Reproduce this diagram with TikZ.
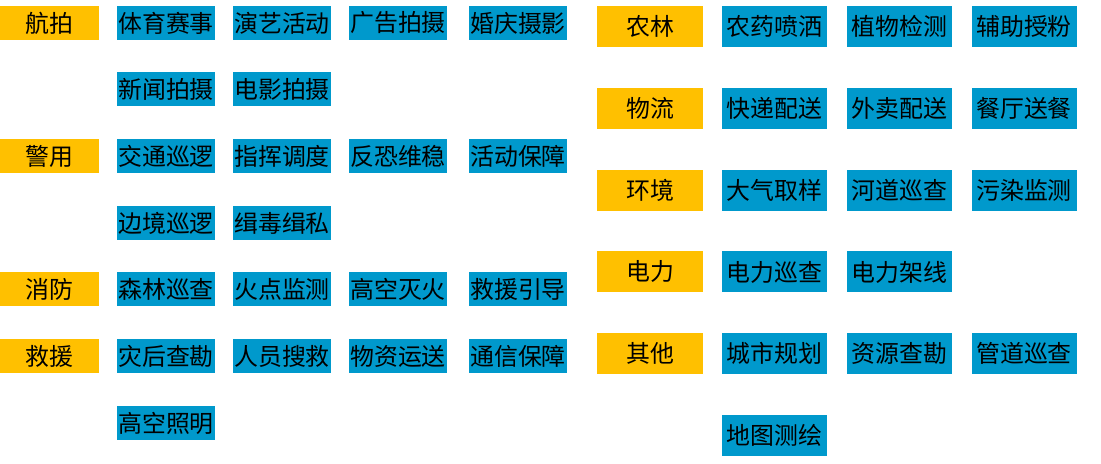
\documentclass[tikz,border=0pt]{standalone}
\usepackage{fontspec}
\newfontfamily\cjk{Noto Sans CJK SC}
\usepackage{xcolor}
\usepackage{tikz}
\definecolor{catgold}{HTML}{FFC000}
\definecolor{appblue}{HTML}{0099CC}

\begin{document}
\begin{tikzpicture}[
    cat/.style={fill=catgold,inner sep=0pt,
      minimum width=1.98cm,minimum height=0.68cm,
      font=\cjk\fontsize{13.6pt}{16pt}\selectfont},
    app/.style={fill=appblue,inner sep=0pt,
      minimum width=1.96cm,minimum height=0.68cm,
      font=\cjk\fontsize{13.6pt}{16pt}\selectfont},
    tall/.style={minimum width=2.1cm,minimum height=0.82cm}
  ]
    \useasboundingbox (0,0) rectangle (22.02,9.28);

    % left half
    \node[cat] (hp) at (0.99,8.82) {航拍};
    \node[app] (hp1) at (3.32,8.82) {体育赛事};
    \node[app] (hp2) at (5.64,8.82) {演艺活动};
    \node[app] (hp3) at (7.96,8.82) {广告拍摄};
    \node[app] (hp4) at (10.36,8.82) {婚庆摄影};
    \node[app] (hp5) at (3.32,7.49) {新闻拍摄};
    \node[app] (hp6) at (5.64,7.49) {电影拍摄};

    \node[cat] (jy) at (0.99,6.15) {警用};
    \node[app] (jy1) at (3.32,6.15) {交通巡逻};
    \node[app] (jy2) at (5.64,6.15) {指挥调度};
    \node[app] (jy3) at (7.96,6.15) {反恐维稳};
    \node[app] (jy4) at (10.36,6.15) {活动保障};
    \node[app] (jy5) at (3.32,4.82) {边境巡逻};
    \node[app] (jy6) at (5.64,4.82) {缉毒缉私};

    \node[cat] (xf) at (0.99,3.49) {消防};
    \node[app] (xf1) at (3.32,3.49) {森林巡查};
    \node[app] (xf2) at (5.64,3.49) {火点监测};
    \node[app] (xf3) at (7.96,3.49) {高空灭火};
    \node[app] (xf4) at (10.36,3.49) {救援引导};

    \node[cat] (jyu) at (0.99,2.15) {救援};
    \node[app] (jyu1) at (3.32,2.15) {灾后查勘};
    \node[app] (jyu2) at (5.64,2.15) {人员搜救};
    \node[app] (jyu3) at (7.96,2.15) {物资运送};
    \node[app] (jyu4) at (10.36,2.15) {通信保障};
    \node[app] (jyu5) at (3.32,0.82) {高空照明};

    % right half
    \node[cat,tall,minimum width=2.12cm] (nl) at (13.0,8.75) {农林};
    \node[app,tall] (nl1) at (15.49,8.75) {农药喷洒};
    \node[app,tall] (nl2) at (17.99,8.75) {植物检测};
    \node[app,tall] (nl3) at (20.48,8.75) {辅助授粉};

    \node[cat,tall,minimum width=2.12cm] (wl) at (13.0,7.11) {物流};
    \node[app,tall] (wl1) at (15.49,7.11) {快递配送};
    \node[app,tall] (wl2) at (17.99,7.11) {外卖配送};
    \node[app,tall] (wl3) at (20.48,7.11) {餐厅送餐};

    \node[cat,tall,minimum width=2.12cm] (hj) at (13.0,5.47) {环境};
    \node[app,tall] (hj1) at (15.49,5.47) {大气取样};
    \node[app,tall] (hj2) at (17.99,5.47) {河道巡查};
    \node[app,tall] (hj3) at (20.48,5.47) {污染监测};

    \node[cat,tall,minimum width=2.12cm] (dl) at (13.0,3.84) {电力};
    \node[app,tall] (dl1) at (15.49,3.84) {电力巡查};
    \node[app,tall] (dl2) at (17.99,3.84) {电力架线};

    \node[cat,tall,minimum width=2.12cm] (qt) at (13.0,2.21) {其他};
    \node[app,tall] (qt1) at (15.49,2.21) {城市规划};
    \node[app,tall] (qt2) at (17.99,2.21) {资源查勘};
    \node[app,tall] (qt3) at (20.48,2.21) {管道巡查};
    \node[app,tall] (qt4) at (15.49,0.57) {地图测绘};
  \end{tikzpicture}
\end{document}
